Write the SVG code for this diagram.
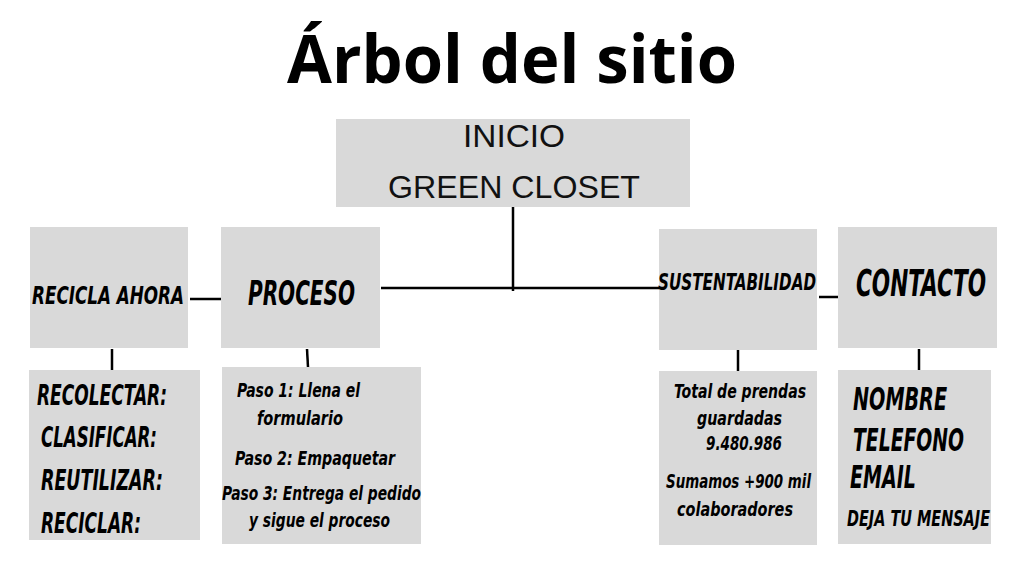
<svg xmlns="http://www.w3.org/2000/svg" width="1024" height="576" viewBox="0 0 1024 576">
<style>
.box{fill:#d9d9d9}
.ln{stroke:#000;stroke-width:2.5;fill:none}
.c{font-family:"DejaVu Sans Condensed","DejaVu Sans",sans-serif;font-weight:bold;font-style:italic;fill:#000}
.top{font-family:"Liberation Sans","DejaVu Sans",sans-serif;font-size:31px;fill:#111;text-anchor:middle}
.title{font-family:"Open Sans","DejaVu Sans",sans-serif;font-weight:bold;font-size:66px;fill:#000;text-anchor:middle}
</style>
<rect width="1024" height="576" fill="#fff"/>
<text class="title" x="512" y="83" textLength="450" lengthAdjust="spacingAndGlyphs">Árbol del sitio</text>
<g id="connectors">
<line class="ln" x1="513" y1="207" x2="513" y2="291"/>
<line class="ln" x1="381" y1="288" x2="659" y2="288"/>
<line class="ln" x1="190" y1="299" x2="221" y2="299"/>
<line class="ln" x1="819" y1="297" x2="838" y2="297"/>
<line class="ln" x1="112" y1="349" x2="112" y2="370"/>
<line class="ln" x1="307" y1="349" x2="308" y2="367"/>
<line class="ln" x1="738" y1="350" x2="738" y2="371"/>
<line class="ln" x1="919" y1="349" x2="919" y2="370"/>
</g>
<g id="inicio">
<rect class="box" x="336" y="119" width="354" height="88"/>
<text class="top" x="514" y="147" textLength="102" lengthAdjust="spacingAndGlyphs">INICIO</text>
<text class="top" x="514" y="198" textLength="252" lengthAdjust="spacingAndGlyphs">GREEN CLOSET</text>
</g>
<g id="recicla">
<rect class="box" x="30" y="227" width="158" height="121"/>
<text class="c" x="32" y="304" font-size="25" textLength="152" lengthAdjust="spacingAndGlyphs">RECICLA AHORA</text>
</g>
<g id="proceso">
<rect class="box" x="221" y="227" width="159" height="121"/>
<text class="c" x="248" y="305" font-size="34" textLength="107" lengthAdjust="spacingAndGlyphs">PROCESO</text>
</g>
<g id="sustentabilidad">
<rect class="box" x="659" y="229" width="158" height="121"/>
<text class="c" x="658" y="290" font-size="23" textLength="158" lengthAdjust="spacingAndGlyphs">SUSTENTABILIDAD</text>
</g>
<g id="contacto">
<rect class="box" x="838" y="227" width="159" height="121"/>
<text class="c" x="856" y="296" font-size="37" textLength="130" lengthAdjust="spacingAndGlyphs">CONTACTO</text>
</g>
<g id="recicla-detalle">
<rect class="box" x="29" y="370" width="171" height="170"/>
<text class="c" font-size="29" x="37" y="405" textLength="130" lengthAdjust="spacingAndGlyphs">RECOLECTAR:</text>
<text class="c" font-size="29" x="41" y="447" textLength="116" lengthAdjust="spacingAndGlyphs">CLASIFICAR:</text>
<text class="c" font-size="29" x="41" y="490" textLength="122" lengthAdjust="spacingAndGlyphs">REUTILIZAR:</text>
<text class="c" font-size="29" x="41" y="533" textLength="100" lengthAdjust="spacingAndGlyphs">RECICLAR:</text>
</g>
<g id="proceso-detalle">
<rect class="box" x="222" y="367" width="199" height="177"/>
<text class="c" font-size="19" x="237" y="397" textLength="123" lengthAdjust="spacingAndGlyphs">Paso 1: Llena el</text>
<text class="c" font-size="19" x="257" y="425" textLength="86" lengthAdjust="spacingAndGlyphs">formulario</text>
<text class="c" font-size="19" x="235" y="465" textLength="160" lengthAdjust="spacingAndGlyphs">Paso 2: Empaquetar</text>
<text class="c" font-size="19" x="222" y="500" textLength="199" lengthAdjust="spacingAndGlyphs">Paso 3: Entrega el pedido</text>
<text class="c" font-size="19" x="249" y="527" textLength="141" lengthAdjust="spacingAndGlyphs">y sigue el proceso</text>
</g>
<g id="sustentabilidad-detalle">
<rect class="box" x="659" y="371" width="158" height="174"/>
<text class="c" font-size="19" x="674" y="398" textLength="132" lengthAdjust="spacingAndGlyphs">Total de prendas</text>
<text class="c" font-size="19" x="697" y="425" textLength="85" lengthAdjust="spacingAndGlyphs">guardadas</text>
<text class="c" font-size="19" x="706" y="450" textLength="76" lengthAdjust="spacingAndGlyphs">9.480.986</text>
<text class="c" font-size="19" x="666" y="488" textLength="145" lengthAdjust="spacingAndGlyphs">Sumamos +900 mil</text>
<text class="c" font-size="19" x="677" y="516" textLength="116" lengthAdjust="spacingAndGlyphs">colaboradores</text>
</g>
<g id="contacto-detalle">
<rect class="box" x="838" y="370" width="153" height="174"/>
<text class="c" font-size="32" x="853" y="410" textLength="94" lengthAdjust="spacingAndGlyphs">NOMBRE</text>
<text class="c" font-size="32" x="853" y="451" textLength="111" lengthAdjust="spacingAndGlyphs">TELEFONO</text>
<text class="c" font-size="32" x="850" y="488" textLength="66" lengthAdjust="spacingAndGlyphs">EMAIL</text>
<text class="c" font-size="22" x="847" y="526" textLength="143" lengthAdjust="spacingAndGlyphs">DEJA TU MENSAJE</text>
</g>
</svg>
